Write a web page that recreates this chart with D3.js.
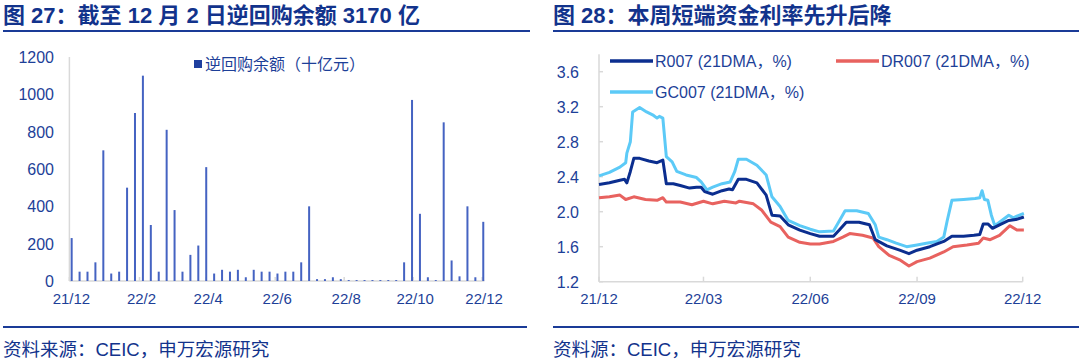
<!DOCTYPE html>
<html>
<head>
<meta charset="utf-8">
<script src="https://cdn.jsdelivr.net/npm/d3@7"></script>
<style>
  body { margin: 0; background: #fff; }
  svg { display: block; }
  text { font-family: "Liberation Sans", Arial, "Noto Sans CJK SC", sans-serif; }
</style>
</head>
<body>
<div id="chart"></div>
<script>
// left chart: weekly reverse repo balance (10 bn yuan), last bar = 2022-12-02
var repoValues = [230, 50, 50, 100, 700, 40, 50, 500, 900, 1100,
  300, 50, 810, 380, 50, 140, 190, 610, 40, 60,
  50, 60, 20, 60, 50, 50, 40, 50, 50, 100,
  400, 10, 10, 20, 10, 5, 5, 5, 5, 5,
  5, 5, 100, 970, 360, 20, 5, 850, 110, 25,
  400, 20, 317];
var repoTicks = ["21/12", "22/2", "22/4", "22/6", "22/8", "22/10", "22/12"];
var repoYTicks = [0, 200, 400, 600, 800, 1000, 1200];

// right chart: day offsets from 2021-12-01 and values (%)
var r007 = [[0,2.31],[9,2.33],[18,2.36],[22,2.37],[24,2.33],[27,2.46],[30,2.61],[35,2.61],[43,2.58],[50,2.56],[55,2.59],[58,2.32],[64,2.32],[70,2.30],[78,2.27],[84,2.28],[88,2.28],[91,2.23],[98,2.20],[106,2.24],[112,2.26],[115,2.25],[120,2.37],[127,2.37],[136,2.33],[144,2.19],[149,1.96],[156,1.95],[163,1.85],[173,1.79],[182,1.75],[190,1.72],[202,1.72],[207,1.79],[213,1.88],[224,1.88],[233,1.85],[238,1.68],[248,1.61],[259,1.56],[267,1.52],[274,1.56],[285,1.60],[297,1.66],[304,1.72],[314,1.72],[323,1.73],[328,1.74],[331,1.86],[335,1.86],[339,1.81],[345,1.85],[353,1.90],[359,1.91],[366,1.94]];
var dr007 = [[0,2.16],[9,2.17],[18,2.19],[23,2.14],[30,2.17],[40,2.14],[50,2.13],[55,2.16],[58,2.11],[70,2.11],[80,2.08],[90,2.12],[98,2.09],[108,2.12],[118,2.10],[121,2.12],[133,2.09],[140,2.02],[148,1.88],[156,1.83],[163,1.71],[173,1.65],[182,1.63],[190,1.63],[202,1.66],[210,1.71],[216,1.75],[227,1.73],[236,1.70],[241,1.60],[250,1.50],[259,1.45],[267,1.38],[274,1.43],[285,1.47],[297,1.54],[305,1.60],[317,1.62],[327,1.64],[331,1.70],[337,1.68],[345,1.73],[354,1.84],[360,1.79],[366,1.79]];
var gc007 = [[0,2.41],[9,2.45],[18,2.51],[23,2.56],[24,2.67],[27,2.80],[29,3.14],[35,3.19],[41,3.14],[47,3.10],[50,3.07],[52,3.09],[55,3.07],[58,2.63],[63,2.57],[67,2.46],[75,2.42],[84,2.39],[88,2.34],[93,2.25],[98,2.28],[106,2.32],[113,2.34],[117,2.46],[120,2.60],[127,2.60],[136,2.53],[144,2.42],[149,2.17],[156,2.06],[163,1.90],[173,1.84],[182,1.80],[190,1.77],[202,1.78],[206,1.87],[212,2.01],[222,2.01],[232,1.98],[238,1.85],[241,1.71],[248,1.68],[256,1.64],[265,1.60],[274,1.62],[282,1.64],[291,1.66],[297,1.71],[300,1.90],[304,2.13],[314,2.14],[324,2.15],[328,2.16],[330,2.24],[332,2.14],[335,2.13],[338,1.96],[341,1.84],[345,1.88],[353,1.96],[357,1.93],[360,1.95],[366,1.98]];
var rateYTicks = [1.2, 1.6, 2.0, 2.4, 2.8, 3.2, 3.6];
var rateXTicks = ["21/12", "22/03", "22/06", "22/09", "22/12"];

var titleBlue = "#12338c", textBlue = "#1d3f98", gridGrey = "#d9d9d9";

var svg = d3.select("#chart").append("svg")
  .attr("width", 1080).attr("height", 362);

// ---------- headers and footers ----------
function header(x0, x1, title) {
  svg.append("text").attr("x", x0).attr("y", 23)
    .attr("font-size", 22).attr("font-weight", "bold").attr("fill", titleBlue)
    .text(title);
  svg.append("line").attr("x1", x0).attr("x2", x1).attr("y1", 31).attr("y2", 31)
    .attr("stroke", "#1a3b97").attr("stroke-width", 2);
}
function footer(x0, x1, txt) {
  svg.append("line").attr("x1", x0).attr("x2", x1).attr("y1", 327).attr("y2", 327)
    .attr("stroke", "#1a3b97").attr("stroke-width", 2);
  svg.append("text").attr("x", x0).attr("y", 356)
    .attr("font-size", 18.5).attr("fill", titleBlue).text(txt);
}
header(3, 530, "图 27：截至 12 月 2 日逆回购余额 3170 亿");
header(553, 1079, "图 28：本周短端资金利率先升后降");
footer(3, 527, "资料来源：CEIC，申万宏源研究");
footer(553, 1079, "资料源：CEIC，申万宏源研究");

// ---------- left chart ----------
var lastDay = new Date(2022, 11, 2);
var repoData = repoValues.map(function (v, i) {
  return { date: d3.timeDay.offset(lastDay, -7 * (repoValues.length - 1 - i)), value: v };
});
var x1 = d3.scaleTime()
  .domain([new Date(2021, 11, 1), new Date(2022, 11, 3)])
  .range([69.4, 484.4]);
var y1 = d3.scaleLinear().domain([0, 1200]).range([281, 57]);

var g1 = svg.append("g");
g1.append("line").attr("x1", 69.4).attr("x2", 69.4).attr("y1", y1(1200)).attr("y2", y1(0))
  .attr("stroke", gridGrey).attr("stroke-width", 1.5);
g1.append("line").attr("x1", 69.4).attr("x2", 484.4).attr("y1", y1(0)).attr("y2", y1(0))
  .attr("stroke", gridGrey).attr("stroke-width", 1.5);

var leftTickDates = repoTicks.map(function (t, i) { return d3.timeMonth.offset(new Date(2021, 11, 1), 2 * i); });
g1.selectAll(".xt").data(leftTickDates).enter().append("line")
  .attr("x1", function (d) { return x1(d); }).attr("x2", function (d) { return x1(d); })
  .attr("y1", y1(0)).attr("y2", y1(0) - 4)
  .attr("stroke", gridGrey).attr("stroke-width", 1.5);
g1.selectAll(".xl").data(leftTickDates).enter().append("text")
  .attr("x", function (d) { return x1(d) + 2; }).attr("y", 304)
  .attr("text-anchor", "middle").attr("font-size", 15).attr("fill", textBlue)
  .text(function (d, i) { return repoTicks[i]; });

g1.selectAll(".yl").data(repoYTicks).enter().append("text")
  .attr("x", 54).attr("y", function (d) { return y1(d) + 6; })
  .attr("text-anchor", "end").attr("font-size", 16).attr("fill", textBlue)
  .text(function (d) { return d; });

g1.selectAll(".bar").data(repoData).enter().append("rect")
  .attr("x", function (d) { return x1(d.date) - 1; })
  .attr("width", 2)
  .attr("y", function (d) { return y1(d.value); })
  .attr("height", function (d) { return y1(0) - y1(d.value); })
  .attr("fill", "#4563c2");

g1.append("rect").attr("x", 194).attr("y", 60).attr("width", 8).attr("height", 8).attr("fill", "#1f3f9f");
g1.append("text").attr("x", 205).attr("y", 70).attr("font-size", 16).attr("fill", textBlue)
  .text("逆回购余额（十亿元）");

// ---------- right chart ----------
var base = new Date(2021, 11, 1);
var x2 = d3.scaleTime().domain([base, new Date(2022, 11, 1)]).range([599, 1022.7]);
var y2 = d3.scaleLinear().domain([1.2, 3.8]).range([281.7, 54.2]);
var g2 = svg.append("g");

g2.append("line").attr("x1", 599).attr("x2", 599).attr("y1", y2(3.8)).attr("y2", y2(1.2))
  .attr("stroke", gridGrey).attr("stroke-width", 1.5);
g2.append("line").attr("x1", 599).attr("x2", 1022.7).attr("y1", y2(1.2)).attr("y2", y2(1.2))
  .attr("stroke", gridGrey).attr("stroke-width", 1.5);
g2.selectAll(".yt").data(rateYTicks).enter().append("line")
  .attr("x1", 599).attr("x2", 603)
  .attr("y1", function (d) { return y2(d); }).attr("y2", function (d) { return y2(d); })
  .attr("stroke", gridGrey).attr("stroke-width", 1.5);
g2.selectAll(".yl").data(rateYTicks).enter().append("text")
  .attr("x", 579).attr("y", function (d) { return y2(d) + 6; })
  .attr("text-anchor", "end").attr("font-size", 16).attr("fill", textBlue)
  .text(function (d) { return d.toFixed(1); });

var rightTickDates = rateXTicks.map(function (t, i) { return d3.timeMonth.offset(base, 3 * i); });
g2.selectAll(".xt").data(rightTickDates).enter().append("line")
  .attr("x1", function (d) { return x2(d); }).attr("x2", function (d) { return x2(d); })
  .attr("y1", y2(1.2)).attr("y2", y2(1.2) - 5)
  .attr("stroke", gridGrey).attr("stroke-width", 1.5);
g2.selectAll(".xl").data(rightTickDates).enter().append("text")
  .attr("x", function (d) { return x2(d); }).attr("y", 304)
  .attr("text-anchor", "middle").attr("font-size", 15).attr("fill", textBlue)
  .text(function (d, i) { return rateXTicks[i]; });

var line = d3.line()
  .x(function (d) { return x2(d3.timeDay.offset(base, d[0])); })
  .y(function (d) { return y2(d[1]); });

var series = [
  { name: "DR007 (21DMA，%)", data: dr007, color: "#e8625f" },
  { name: "GC007 (21DMA，%)", data: gc007, color: "#5ccaf7" },
  { name: "R007 (21DMA，%)", data: r007, color: "#0b2e8f" }
];
g2.selectAll(".series").data(series).enter().append("path")
  .attr("d", function (d) { return line(d.data); })
  .attr("fill", "none").attr("stroke", function (d) { return d.color; })
  .attr("stroke-width", 3).attr("stroke-linejoin", "round");

var legend = [
  { name: "R007 (21DMA，%)", color: "#0b2e8f", x: 610, y: 61 },
  { name: "DR007 (21DMA，%)", color: "#e8625f", x: 836, y: 61 },
  { name: "GC007 (21DMA，%)", color: "#5ccaf7", x: 610, y: 92 }
];
var lg = g2.selectAll(".lg").data(legend).enter().append("g");
lg.append("line")
  .attr("x1", function (d) { return d.x; }).attr("x2", function (d) { return d.x + 43; })
  .attr("y1", function (d) { return d.y; }).attr("y2", function (d) { return d.y; })
  .attr("stroke", function (d) { return d.color; }).attr("stroke-width", 3.5);
lg.append("text")
  .attr("x", function (d) { return d.x + 45; }).attr("y", function (d) { return d.y + 6; })
  .attr("font-size", 16).attr("fill", textBlue)
  .text(function (d) { return d.name; });
</script>
</body>
</html>
